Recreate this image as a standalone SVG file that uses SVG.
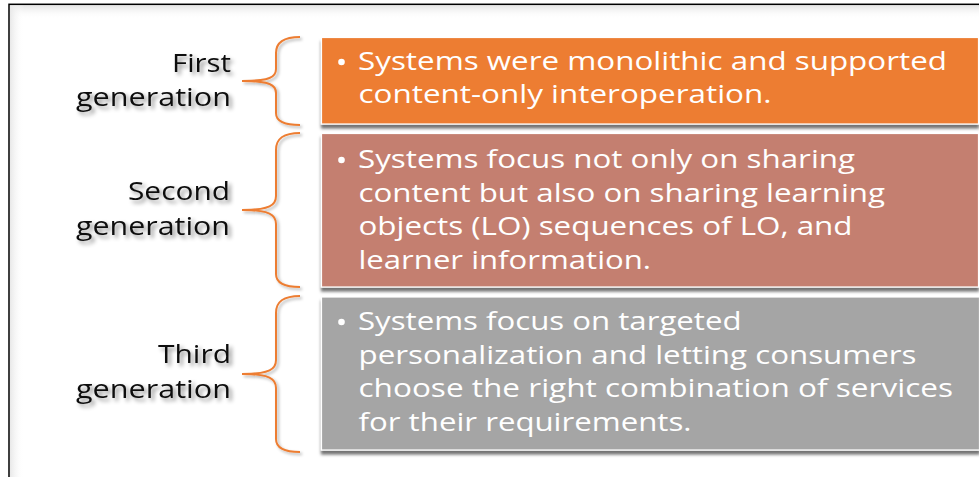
<svg xmlns="http://www.w3.org/2000/svg" width="979" height="477" viewBox="0 0 979 477">
<defs>
<style>
.lbl{font-family:"Open Sans","Noto Sans","Liberation Sans",sans-serif;font-size:26px;fill:#111;filter:url(#tshadow)}
.body{font-family:"Open Sans","Noto Sans","Liberation Sans",sans-serif;font-size:25px;fill:#fff}
.brace{fill:none;stroke:#ED7D31;stroke-width:2;filter:url(#bshadow)}
.box{stroke:#fff;stroke-width:1.2;filter:url(#boxshadow)}
</style>
<filter id="tshadow" x="-20%" y="-40%" width="150%" height="200%">
<feGaussianBlur in="SourceAlpha" stdDeviation="2"/>
<feOffset dx="2.5" dy="3" result="b"/>
<feFlood flood-color="#000" flood-opacity="0.45"/>
<feComposite in2="b" operator="in" result="s"/>
<feMerge><feMergeNode in="s"/><feMergeNode in="SourceGraphic"/></feMerge>
</filter>
<filter id="bshadow" x="-50%" y="-10%" width="200%" height="120%">
<feGaussianBlur in="SourceAlpha" stdDeviation="1.5"/>
<feOffset dx="2" dy="2" result="b"/>
<feFlood flood-color="#000" flood-opacity="0.3"/>
<feComposite in2="b" operator="in" result="s"/>
<feMerge><feMergeNode in="s"/><feMergeNode in="SourceGraphic"/></feMerge>
</filter>
<filter id="boxshadow" x="-5%" y="-10%" width="110%" height="130%">
<feGaussianBlur in="SourceAlpha" stdDeviation="1.8"/>
<feOffset dx="0" dy="4" result="b"/>
<feFlood flood-color="#000" flood-opacity="0.55"/>
<feComposite in2="b" operator="in" result="s"/>
<feMerge><feMergeNode in="s"/><feMergeNode in="SourceGraphic"/></feMerge>
</filter>
<linearGradient id="topg" x1="0" y1="0" x2="0" y2="1">
<stop offset="0" stop-color="#e4e4e4"/>
<stop offset="1" stop-color="#fff" stop-opacity="0"/>
</linearGradient>
<linearGradient id="leftg" x1="0" y1="0" x2="1" y2="0">
<stop offset="0" stop-color="#e8e8e8"/>
<stop offset="1" stop-color="#fff" stop-opacity="0"/>
</linearGradient>
</defs>
<rect x="0" y="0" width="979" height="477" fill="#fff"/>
<g id="frame">
<rect x="9.5" y="5" width="1000" height="14" fill="url(#topg)"/>
<rect x="10" y="5" width="14" height="480" fill="url(#leftg)"/>
<rect x="9" y="4.3" width="1000" height="500" fill="none" stroke="#000" stroke-width="1.5"/>
</g>
<g id="connectors">
<path class="brace" d="M300,37 C284,37 276,42 276,53 L276,69 C276,77 270,81 242,81 C270,81 276,85 276,93 L276,113 C276,121 284,125 300,125"/>
<path class="brace" d="M300,133 C284,133 276,138 276,150 L276,196 C276,205 270,210 242,210 C270,210 276,215 276,224 L276,274 C276,283 284,287 300,287"/>
<path class="brace" d="M300,296 C284,296 276,301 276,313 L276,360 C276,369 270,374 242,374 C270,374 276,379 276,388 L276,439 C276,448 284,452 300,452"/>
</g>
<g id="gen1">
<text class="lbl" x="172" y="72" textLength="59" lengthAdjust="spacingAndGlyphs">First</text>
<text class="lbl" x="76" y="105.5" textLength="155" lengthAdjust="spacingAndGlyphs">generation</text>
</g>
<g id="gen2">
<text class="lbl" x="128" y="200" textLength="102" lengthAdjust="spacingAndGlyphs">Second</text>
<text class="lbl" x="76" y="235" textLength="154" lengthAdjust="spacingAndGlyphs">generation</text>
</g>
<g id="gen3">
<text class="lbl" x="158" y="363" textLength="73" lengthAdjust="spacingAndGlyphs">Third</text>
<text class="lbl" x="76" y="398" textLength="155" lengthAdjust="spacingAndGlyphs">generation</text>
</g>
<g id="box1">
<rect class="box" x="321.5" y="37.5" width="657" height="86.5" fill="#ED7D31"/>
<circle cx="341.5" cy="62" r="3.3" fill="#fff"/>
<text class="body" x="358" y="70" textLength="589" lengthAdjust="spacingAndGlyphs">Systems were monolithic and supported</text>
<text class="body" x="358.5" y="103" textLength="413" lengthAdjust="spacingAndGlyphs">content-only interoperation.</text>
</g>
<g id="box2">
<rect class="box" x="321.5" y="133.5" width="657" height="153.5" fill="#C47F6F"/>
<circle cx="341.5" cy="160" r="3.3" fill="#fff"/>
<text class="body" x="358" y="168" textLength="497" lengthAdjust="spacingAndGlyphs">Systems focus not only on sharing</text>
<text class="body" x="358.5" y="201.5" textLength="526.5" lengthAdjust="spacingAndGlyphs">content but also on sharing learning</text>
<text class="body" x="358.5" y="235" textLength="494" lengthAdjust="spacingAndGlyphs">objects (LO) sequences of LO, and</text>
<text class="body" x="358.5" y="268.5" textLength="292.5" lengthAdjust="spacingAndGlyphs">learner information.</text>
</g>
<g id="box3">
<rect class="box" x="321.5" y="297" width="658" height="153" fill="#A5A5A5"/>
<circle cx="341.5" cy="322" r="3.3" fill="#fff"/>
<text class="body" x="358" y="330" textLength="383.5" lengthAdjust="spacingAndGlyphs">Systems focus on targeted</text>
<text class="body" x="358.5" y="363.5" textLength="558" lengthAdjust="spacingAndGlyphs">personalization and letting consumers</text>
<text class="body" x="358.5" y="397" textLength="594.5" lengthAdjust="spacingAndGlyphs">choose the right combination of services</text>
<text class="body" x="358.5" y="430.5" textLength="333" lengthAdjust="spacingAndGlyphs">for their requirements.</text>
</g>
</svg>
